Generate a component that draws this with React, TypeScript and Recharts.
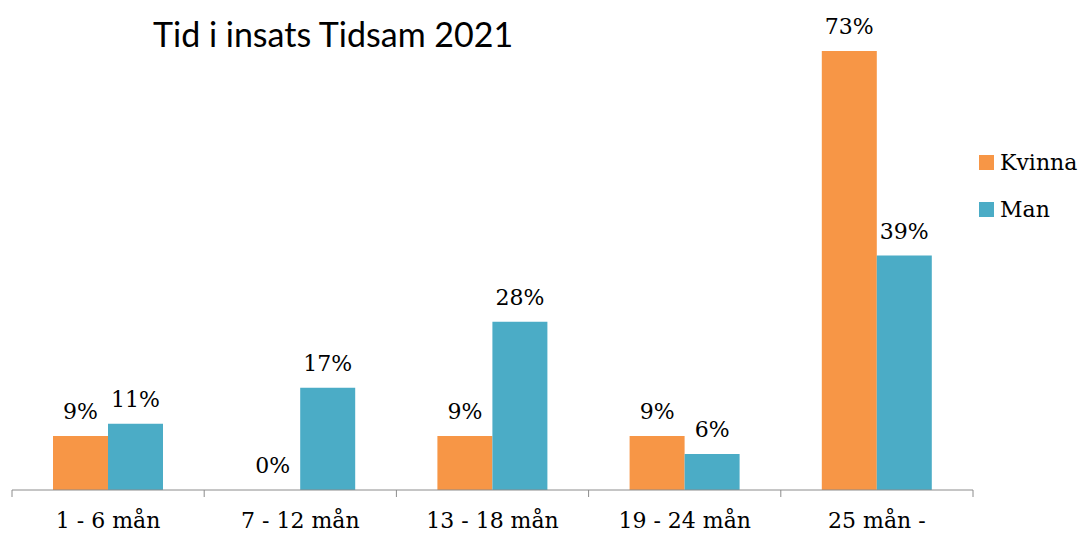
import { BarChart, Bar, XAxis, YAxis, Legend, LabelList } from 'recharts';

const categories = ['1 - 6 mån', '7 - 12 mån', '13 - 18 mån', '19 - 24 mån', '25 mån -'];
const kvinna = [9, 0, 9, 9, 73];
const man = [11, 17, 28, 6, 39];

const data = categories.map((cat, i) => ({ cat, Kvinna: kvinna[i], Man: man[i] }));

const SERIF = '"DejaVu Serif", serif';
const AXIS_GRAY = '#8c8c8c';

const renderLegend = (props: any) => {
    const { payload } = props;
    return (
        <div>
            {(payload || []).map((entry: any) => (
                <div key={entry.value} style={{ display: 'flex', alignItems: 'center', height: 47 }}>
                    <span style={{ width: 15, height: 15, background: entry.color, display: 'inline-block', marginRight: 6 }} />
                    <span style={{ fontFamily: SERIF, fontSize: 22, color: '#000' }}>{entry.value}</span>
                </div>
            ))}
        </div>
    );
};

// category label plus the tick marks on the band edges (Excel style)
const CatTick = (props: any) => {
    const { x, y, payload, index, visibleTicksCount } = props;
    const half = payload?.offset ?? 0;
    const axisY = y - 25;
    const isLast = index === visibleTicksCount - 1;
    return (
        <g>
            <line x1={x - half} x2={x - half} y1={axisY} y2={axisY + 7} stroke={AXIS_GRAY} />
            {isLast && <line x1={x + half} x2={x + half} y1={axisY} y2={axisY + 7} stroke={AXIS_GRAY} />}
            <text x={x} y={y + 13} textAnchor="middle" fontFamily={SERIF} fontSize={22} fill="#000">
                {payload.value}
            </text>
        </g>
    );
};

const App = () => {
    return (
        <div style={{ position: 'absolute', left: 0, top: 0, width: 1084, height: 533, background: '#fff' }}>
            <div style={{
                position: 'absolute', left: 153, top: 14, fontFamily: 'Lato, sans-serif',
                fontSize: 34, lineHeight: '40px', color: '#000', whiteSpace: 'nowrap'
            }}>
                Tid i insats Tidsam 2021
            </div>
            <BarChart
                width={1084}
                height={533}
                data={data}
                margin={{ top: 9, right: 111, left: 12, bottom: 0 }}
                barGap={0}
                barSize={55}
            >
                <XAxis
                    dataKey="cat"
                    stroke={AXIS_GRAY}
                    tickLine={false}
                    tickSize={0}
                    tickMargin={25}
                    height={43}
                    interval={0}
                    tick={<CatTick />} />
                <YAxis hide domain={[0, 80]} />
                <Legend
                    layout="vertical"
                    align="center"
                    verticalAlign="middle"
                    content={renderLegend}
                    wrapperStyle={{ left: 979, top: 139, width: 105 }} />
                <Bar
                    dataKey="Kvinna"
                    fill="#F79646"
                    minPointSize={(v: number) => (v === 0 ? 0.01 : 0)}
                    isAnimationActive={false}>
                    <LabelList
                        dataKey="Kvinna"
                        position="top"
                        offset={17}
                        formatter={(v: any) => `${v}%`}
                        style={{ fontFamily: SERIF, fontSize: 22, fill: '#000' }} />
                </Bar>
                <Bar dataKey="Man" fill="#4BACC6" isAnimationActive={false}>
                    <LabelList
                        dataKey="Man"
                        position="top"
                        offset={17}
                        formatter={(v: any) => `${v}%`}
                        style={{ fontFamily: SERIF, fontSize: 22, fill: '#000' }} />
                </Bar>
            </BarChart>
        </div>
    );
};

export default App;
